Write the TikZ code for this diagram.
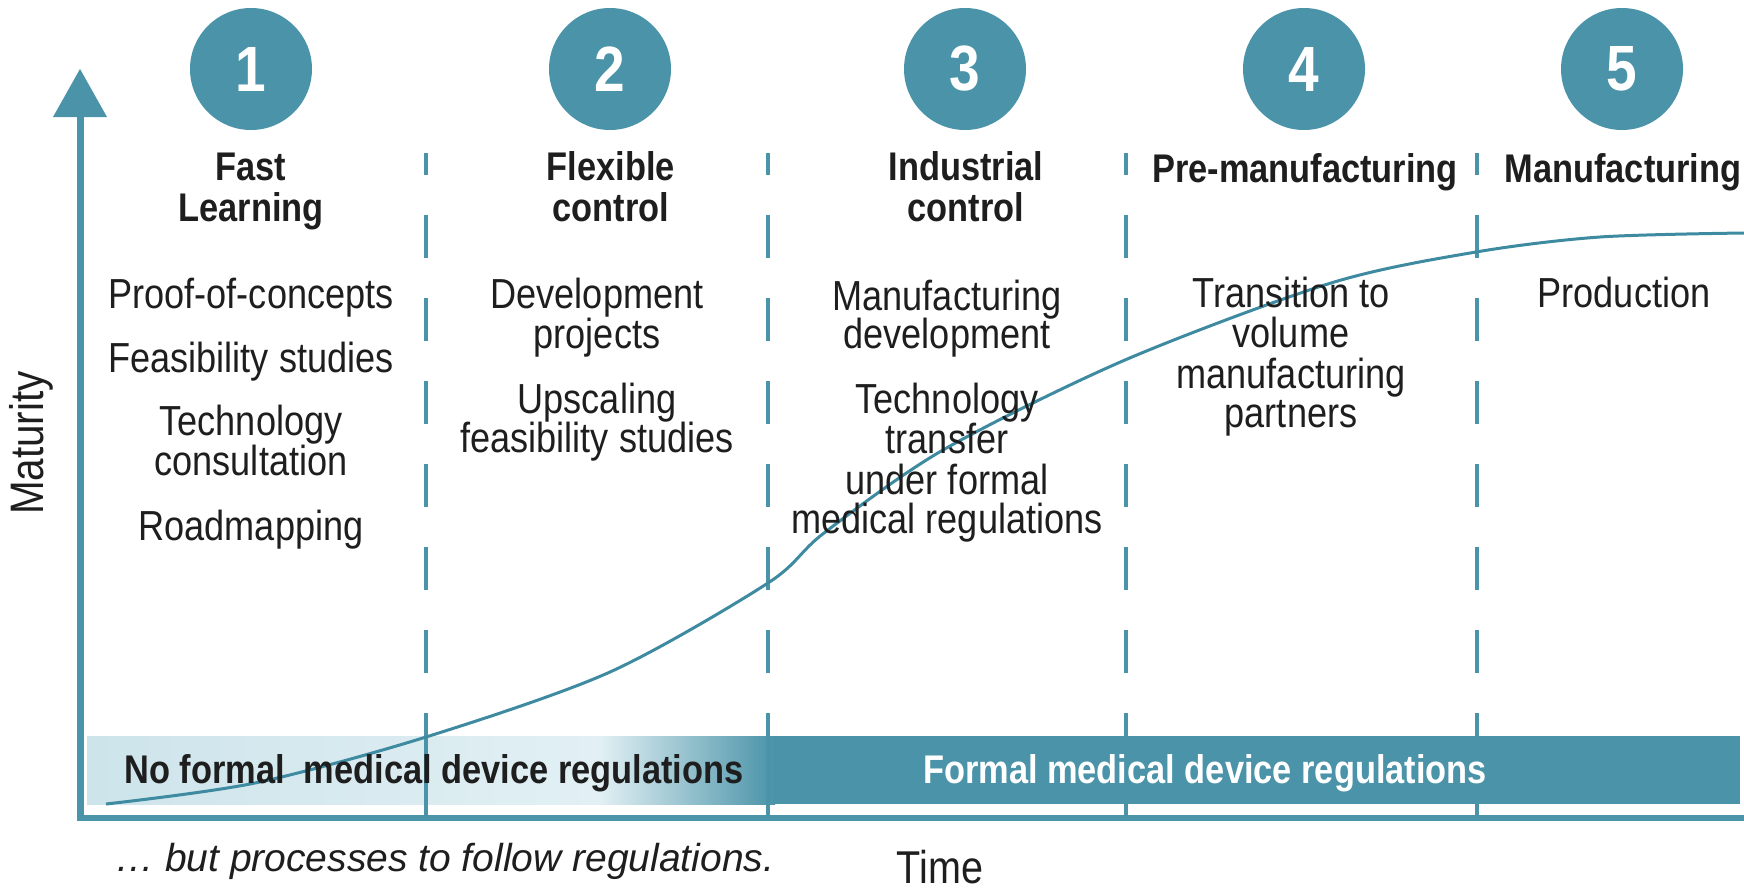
\documentclass[tikz,border=0pt]{standalone}
\usepackage{fontspec}
\setmainfont{Liberation Sans}[FakeStretch=0.86]
\newfontfamily\plainfont{Liberation Sans}
\definecolor{tealc}{RGB}{74,147,168}
\definecolor{curvec}{RGB}{62,138,160}
\definecolor{bandl}{RGB}{205,228,235}
\definecolor{bandm}{RGB}{226,240,244}
\definecolor{txt}{RGB}{30,30,30}
\tikzset{
  numcirc/.style={circle, fill=tealc, minimum size=122pt, inner sep=0pt, text=white, font=\bfseries\fontsize{64}{64}\selectfont},
  ttl/.style={anchor=base, inner sep=0pt, text=txt, font=\bfseries\fontsize{40}{41}\selectfont},
  bodyt/.style={anchor=base, inner sep=0pt, text=txt, font=\fontsize{42}{40}\selectfont},
  divline/.style={tealc, line width=4pt},
  bandt/.style={anchor=base, inner sep=0pt, font=\bfseries\fontsize{40}{40}\selectfont}
}
\begin{document}
\begin{tikzpicture}[x=1pt,y=-1pt]
\useasboundingbox (0,0) rectangle (1744,891);
% regulation band
\shade[left color=bandl, right color=bandm] (87,736) rectangle (600,804);
\shade[left color=bandm, right color=tealc] (599.5,736) rectangle (775,804);
\fill[tealc] (774.5,736) rectangle (1740,804);
% phase dividers
\foreach \x/\n in {426/a,768/b,1126/c,1477/d}{
  \coordinate (top\n) at (\x,153);
  \coordinate (mid\n) at (\x,713);
  \coordinate (bot\n) at (\x,818);
  \draw[divline, dash pattern=on 43pt off 40pt, dash phase=21pt] (top\n) -- (mid\n);
  \draw[divline] (mid\n) -- (bot\n);
}
% axes
\coordinate (origin) at (80,818);
\coordinate (ytip) at (80,69);
\coordinate (xend) at (1744,818);
\draw[tealc, line width=7pt] (origin) -- (80,114);
\fill[tealc] (ytip) -- (107,117) -- (53,117) -- cycle;
\draw[tealc, line width=6pt] (76.5,818) -- (xend);
% maturity curve
\draw[curvec, line width=3pt] plot[smooth, tension=0.5] coordinates {
 (106,804) (255,783) (426,737) (610,672) (768,583) (824,533)
 (943,450) (1125,360) (1331,283) (1476,252) (1600,237) (1744,233)};
% circles
\node[numcirc] (c1) at (251,69) {1};
\node[numcirc] (c2) at (610,69) {2};
\node[numcirc] (c3) at (965,69) {3};
\node[numcirc] (c4) at (1304,69) {4};
\node[numcirc] (c5) at (1622,69) {5};
% titles
\node[ttl] (t1a) at (251,180) {Fast};
\node[ttl] (t1b) at (251,221) {Learning};
\node[ttl] (t2a) at (611,180) {Flexible};
\node[ttl] (t2b) at (611,221) {control};
\node[ttl] (t3a) at (966,180) {Industrial};
\node[ttl] (t3b) at (966,221) {control};
\node[ttl] (t4a) at (1305,182) {Pre-manufacturing};
\node[ttl] (t5a) at (1623,182) {Manufacturing};
% column 1
\node[bodyt] (b1a) at (251,308) {Proof-of-concepts};
\node[bodyt] (b1b) at (251,372) {Feasibility studies};
\node[bodyt] (b1c) at (251,435) {Technology};
\node[bodyt] (b1d) at (251,475) {consultation};
\node[bodyt] (b1e) at (251,540) {Roadmapping};
% column 2
\node[bodyt] (b2a) at (597,308) {Development};
\node[bodyt] (b2b) at (597,348) {projects};
\node[bodyt] (b2c) at (597,413) {Upscaling};
\node[bodyt] (b2d) at (597,452) {feasibility studies};
% column 3
\node[bodyt] (b3a) at (947,310) {Manufacturing};
\node[bodyt] (b3b) at (947,348) {development};
\node[bodyt] (b3c) at (947,413) {Technology};
\node[bodyt] (b3d) at (947,453) {transfer};
\node[bodyt] (b3e) at (947,494) {under formal};
\node[bodyt] (b3f) at (947,533) {medical regulations};
% column 4
\node[bodyt] (b4a) at (1291,307) {Transition to};
\node[bodyt] (b4b) at (1291,347) {volume};
\node[bodyt] (b4c) at (1291,388) {manufacturing};
\node[bodyt] (b4d) at (1291,427) {partners};
% column 5
\node[bodyt] (b5a) at (1624,307) {Production};
% band texts
\node[bandt, text=txt] (noreg) at (434,783) {No formal\ \ medical device regulations};
\node[bandt, text=white] (reg) at (1205,783) {Formal medical device regulations};
% axis labels
\node[anchor=base, inner sep=0pt, rotate=90, text=txt, font=\fontsize{47}{47}\selectfont] (maty) at (43,443) {Maturity};
\node[anchor=base, inner sep=0pt, text=txt, font=\fontsize{46}{46}\selectfont] (timex) at (940,883) {Time};
\node[anchor=base west, inner sep=0pt, text=txt, font=\plainfont\itshape\fontsize{39}{39}\selectfont] (note) at (115,871) {\dots\ but processes to follow regulations.};
\end{tikzpicture}
\end{document}
